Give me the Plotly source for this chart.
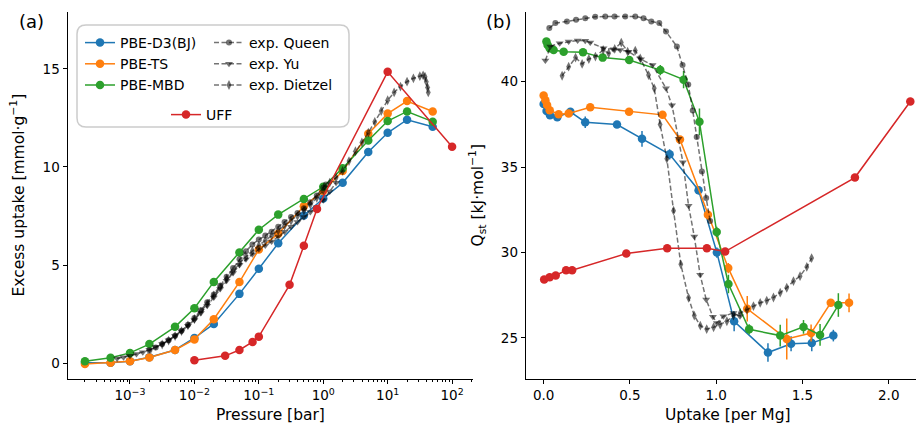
import plotly.graph_objects as go

# ---------------- panel (a): excess uptake isotherms ----------------
P_DFT = [2e-4, 5e-4, 1e-3, 2e-3, 5e-3, 1e-2, 2e-2, 5e-2, 0.1, 0.2, 0.5, 1, 2, 5, 10, 20, 50]
ADS_D3 = [0.02, 0.02, 0.10, 0.30, 0.67, 1.28, 2.00, 3.53, 4.81, 6.11, 7.52, 8.39, 9.19, 10.76, 11.74, 12.41, 12.05]
ADS_TS = [-0.05, 0.02, 0.10, 0.29, 0.67, 1.21, 2.24, 4.13, 5.79, 6.60, 8.00, 8.77, 9.79, 11.69, 12.72, 13.36, 12.83]
ADS_MBD = [0.09, 0.27, 0.52, 0.97, 1.85, 2.80, 4.14, 5.64, 6.80, 7.57, 8.37, 8.99, 9.94, 11.35, 12.34, 12.83, 12.31]

P_UFF = [0.01, 0.03, 0.05, 0.08, 0.1, 0.3, 0.5, 0.8, 10, 100]
ADS_UFF = [0.15, 0.37, 0.67, 1.08, 1.35, 3.99, 5.98, 7.86, 14.85, 11.03]

P_QUEEN = [0.002, 0.00251, 0.00316, 0.00398, 0.00501, 0.00631, 0.00794, 0.01, 0.0126, 0.0158,
           0.02, 0.0251, 0.0316, 0.0398, 0.0501, 0.0631, 0.0794, 0.1, 0.126, 0.158,
           0.2, 0.251, 0.316, 0.398, 0.501, 0.631, 0.794, 1.0, 1.1]
ADS_QUEEN = [0.65, 0.8, 0.97, 1.17, 1.4, 1.65, 1.95, 2.3, 2.7, 3.1,
             3.5, 3.95, 4.4, 4.85, 5.3, 5.7, 6.05, 6.3, 6.5, 6.7,
             6.95, 7.2, 7.45, 7.65, 7.9, 8.2, 8.55, 8.95, 9.1]

P_YU = [0.000631, 0.000794, 0.001, 0.00126, 0.00158, 0.002, 0.00251, 0.00316, 0.00398, 0.00501,
        0.00631, 0.00794, 0.01, 0.0126, 0.0158, 0.02, 0.0251, 0.0316, 0.0398, 0.0501,
        0.0631, 0.0794, 0.1, 0.126, 0.158, 0.2, 0.251, 0.316, 0.398, 0.501,
        0.631, 0.794, 1.0, 1.26, 1.58]
ADS_YU = [0.24, 0.3, 0.37, 0.46, 0.56, 0.68, 0.82, 0.98, 1.17, 1.38,
          1.62, 1.9, 2.2, 2.55, 2.93, 3.35, 3.78, 4.2, 4.6, 5.0,
          5.3, 5.55, 5.8, 6.0, 6.2, 6.45, 6.7, 6.95, 7.2, 7.45,
          7.7, 7.95, 8.3, 8.75, 9.2]

P_DIETZEL = [0.00316, 0.00398, 0.00501, 0.00631, 0.00794, 0.01, 0.0126, 0.0158, 0.02, 0.0251,
             0.0316, 0.0398, 0.0501, 0.0631, 0.0794, 0.1, 0.126, 0.158, 0.2, 0.251,
             0.316, 0.398, 0.501, 0.631, 0.794, 1.0, 1.26, 1.58, 2.0, 2.51,
             3.16, 3.98, 5.01, 6.31, 7.94, 10.0, 12.6, 15.8, 20.0, 25.1,
             31.6, 35.5, 38.0, 39.8, 41.7, 42.7]
ADS_DIETZEL = [0.95, 1.15, 1.38, 1.63, 1.92, 2.25, 2.62, 3.02, 3.45, 3.88,
               4.3, 4.7, 5.08, 5.42, 5.72, 6.0, 6.25, 6.5, 6.75, 7.0,
               7.25, 7.5, 7.78, 8.08, 8.42, 8.8, 9.2, 9.45, 9.8, 10.3,
               10.8, 11.25, 11.75, 12.3, 12.85, 13.4, 13.8, 14.1, 14.35, 14.52,
               14.63, 14.67, 14.6, 14.35, 14.05, 13.8]

# ---------------- panel (b): isosteric heats ----------------
N_D3 = [0.0, 0.017, 0.037, 0.079, 0.155, 0.241, 0.425, 0.57, 0.73, 0.898, 1.004, 1.104, 1.3, 1.434, 1.554, 1.679]
Q_D3 = [38.69, 38.28, 38.04, 37.92, 38.24, 37.63, 37.49, 36.66, 35.75, 33.65, 30.0, 25.98, 24.15, 24.66, 24.71, 25.14]
E_D3 = [0.1, 0.1, 0.15, 0.2, 0.15, 0.34, 0.15, 0.46, 0.3, 0.25, 0.3, 0.59, 0.54, 0.44, 0.49, 0.34]

N_TS = [0.0, 0.01, 0.02, 0.035, 0.087, 0.145, 0.27, 0.495, 0.689, 0.79, 0.952, 1.07, 1.18, 1.409, 1.55, 1.664, 1.77]
Q_TS = [39.19, 38.91, 38.64, 38.33, 38.09, 38.14, 38.5, 38.24, 38.06, 36.62, 32.21, 29.09, 26.71, 24.94, 25.29, 27.06, 27.06]
E_TS = [0.1, 0.1, 0.1, 0.1, 0.1, 0.1, 0.1, 0.15, 0.2, 0.2, 0.3, 0.3, 0.75, 1.2, 0.5, 0.2, 0.55]

N_MBD = [0.016, 0.023, 0.035, 0.058, 0.116, 0.228, 0.342, 0.496, 0.676, 0.811, 0.903, 1.003, 1.071, 1.191, 1.371, 1.506, 1.602, 1.708]
Q_MBD = [42.35, 42.15, 41.96, 41.86, 41.76, 41.72, 41.41, 41.27, 40.68, 40.12, 37.65, 31.21, 28.16, 25.51, 25.14, 25.65, 25.18, 26.93]
E_MBD = [0.1, 0.1, 0.1, 0.1, 0.1, 0.1, 0.15, 0.2, 0.3, 0.5, 0.78, 0.3, 0.54, 0.3, 0.64, 0.4, 0.64, 0.69]

N_UFF = [0.003, 0.035, 0.07, 0.13, 0.165, 0.479, 0.716, 0.946, 1.052, 1.804, 2.125]
Q_UFF = [28.43, 28.55, 28.66, 28.96, 28.96, 29.94, 30.25, 30.25, 30.06, 34.39, 38.84]

N_QUEEN = [0.033, 0.068, 0.135, 0.188, 0.241, 0.299, 0.357, 0.411, 0.473, 0.531, 0.579, 0.624, 0.67,
           0.709, 0.772, 0.805, 0.838, 0.864, 0.887, 0.917, 0.942, 0.965]
Q_QUEEN = [43.14, 43.43, 43.53, 43.62, 43.72, 43.8, 43.82, 43.82, 43.82, 43.82, 43.72, 43.53, 43.43,
           42.94, 42.06, 40.98, 39.84, 38.31, 36.76, 34.74, 33.19, 31.85]

N_YU = [0.01, 0.039, 0.093, 0.145, 0.197, 0.241, 0.27, 0.347, 0.405, 0.444, 0.492, 0.564, 0.631,
        0.709, 0.744, 0.782, 0.807, 0.84, 0.873, 0.907, 0.942, 0.981, 1.004, 1.042, 1.1, 1.138]
Q_YU = [41.24, 42.06, 42.25, 42.35, 42.41, 42.39, 42.29, 41.96, 41.9, 41.86, 41.76, 41.31, 40.98,
        39.61, 38.62, 36.66, 35.29, 32.74, 30.94, 28.7, 27.25, 26.24, 25.88, 26.27, 26.47, 26.27]

N_DIETZEL = [0.107, 0.145, 0.185, 0.223, 0.262, 0.3, 0.345, 0.377, 0.412, 0.45, 0.487, 0.531, 0.56,
             0.608, 0.641, 0.675, 0.714, 0.753, 0.795, 0.84, 0.873, 0.908, 0.945, 0.985, 1.023, 1.062,
             1.1, 1.139, 1.178, 1.216, 1.255, 1.293, 1.332, 1.371, 1.409, 1.448, 1.486, 1.525, 1.553]
Q_DIETZEL = [40.35, 40.88, 41.41, 41.04, 41.33, 41.47, 41.86, 41.66, 41.92, 42.29, 41.76, 41.82, 41.37,
             40.39, 39.61, 37.5, 35.49, 32.45, 29.31, 27.35, 26.31, 25.72, 25.52, 25.63, 25.78, 25.98,
             26.31, 26.46, 26.66, 26.87, 27.06, 27.19, 27.37, 27.65, 27.94, 28.33, 28.62, 29.16, 29.68]

# ---------------- styling ----------------
BLUE, ORANGE, GREEN, RED = "#1f77b4", "#ff7f0e", "#2ca02c", "#d62728"
EXP = "rgba(0,0,0,0.55)"
FONT = "DejaVu Sans"
W, H = 916, 426

fig = go.Figure()

def dft(x, y, color, name, xa, ya, err=None, legend="legend", show=True):
    tr = go.Scatter(x=x, y=y, mode="lines+markers", name=name,
                    line=dict(color=color, width=1.5),
                    marker=dict(color=color, size=8.5),
                    xaxis=xa, yaxis=ya, legend=legend, showlegend=show)
    if err is not None:
        tr.error_y = dict(type="data", array=err, visible=True, color=color, thickness=1.5, width=0)
    fig.add_trace(tr)

def exp(x, y, symbol, size, name, xa, ya, show=True):
    fig.add_trace(go.Scatter(x=x, y=y, mode="lines+markers", name=name,
                             line=dict(color=EXP, width=1.5, dash="5px,2.5px"),
                             marker=dict(color=EXP, size=size, symbol=symbol, line=dict(width=0)),
                             xaxis=xa, yaxis=ya, legend="legend2", showlegend=show))

# panel (a)
dft(P_DFT, ADS_D3, BLUE, "PBE-D3(BJ)", "x", "y")
dft(P_DFT, ADS_TS, ORANGE, "PBE-TS", "x", "y")
dft(P_DFT, ADS_MBD, GREEN, "PBE-MBD", "x", "y")
exp(P_QUEEN, ADS_QUEEN, "circle", 6, "exp. Queen", "x", "y")
exp(P_YU, ADS_YU, "triangle-down", 7, "exp. Yu", "x", "y")
exp(P_DIETZEL, ADS_DIETZEL, "diamond-tall", 7, "exp. Dietzel", "x", "y")
dft(P_UFF, ADS_UFF, RED, "UFF", "x", "y", legend="legend3")

# panel (b)
dft(N_D3, Q_D3, BLUE, "PBE-D3(BJ)", "x2", "y2", err=E_D3, show=False)
dft(N_TS, Q_TS, ORANGE, "PBE-TS", "x2", "y2", err=E_TS, show=False)
dft(N_MBD, Q_MBD, GREEN, "PBE-MBD", "x2", "y2", err=E_MBD, show=False)
exp(N_QUEEN, Q_QUEEN, "circle", 6, "exp. Queen", "x2", "y2", show=False)
exp(N_YU, Q_YU, "triangle-down", 7, "exp. Yu", "x2", "y2", show=False)
exp(N_DIETZEL, Q_DIETZEL, "diamond-tall", 7, "exp. Dietzel", "x2", "y2", show=False)
dft(N_UFF, Q_UFF, RED, "UFF", "x2", "y2", show=False)

def px(x):
    return x / W

def py(y):
    return 1 - y / H

TICKFONT = dict(family=FONT, size=13.5, color="black")
axis_common = dict(showline=True, linecolor="black", linewidth=1, ticks="outside", ticklen=4,
                   tickwidth=1, tickcolor="black", showgrid=False, zeroline=False,
                   tickfont=TICKFONT, mirror=False)

minor_vals = [m * 10 ** e for e in range(-4, 3) for m in range(2, 10)]
DEC = [1e-3, 1e-2, 1e-1, 1, 10, 100]
DEC_TXT = ["10<sup>\u22123</sup>", "10<sup>\u22122</sup>", "10<sup>\u22121</sup>",
           "10<sup>0</sup>", "10<sup>1</sup>", "10<sup>2</sup>"]

LEGFONT = dict(family=FONT, size=14, color="black")
y_dom = [py(379), py(12)]
fig.update_layout(
    width=W, height=H, margin=dict(l=0, r=0, t=0, b=0),
    paper_bgcolor="white", plot_bgcolor="white",
    font=dict(family=FONT, color="black"),
    xaxis=dict(type="log", range=[-3.97, 2.32], domain=[px(67.5), px(472.7)], anchor="y",
               tickvals=DEC, ticktext=DEC_TXT,
               minor=dict(tickvals=minor_vals, ticks="outside", ticklen=2.2, tickcolor="black", showgrid=False),
               **axis_common),
    yaxis=dict(range=[-0.81, 17.9], domain=y_dom, anchor="x", tickvals=[0, 5, 10, 15], **axis_common),
    xaxis2=dict(range=[-0.104, 2.158], domain=[px(525.7), 1.0], anchor="y2",
                tickvals=[0, 0.5, 1.0, 1.5, 2.0], ticktext=["0.0", "0.5", "1.0", "1.5", "2.0"], **axis_common),
    yaxis2=dict(range=[22.6, 44.08], domain=y_dom, anchor="x2", tickvals=[25, 30, 35, 40], **axis_common),
    legend=dict(x=px(80), y=py(27), xanchor="left", yanchor="top", bgcolor="rgba(0,0,0,0)",
                font=LEGFONT, tracegroupgap=0, itemwidth=30),
    legend2=dict(x=px(209), y=py(27), xanchor="left", yanchor="top", bgcolor="rgba(0,0,0,0)",
                 font=LEGFONT, tracegroupgap=0, itemwidth=30),
    legend3=dict(x=px(166), y=py(99), xanchor="left", yanchor="top", bgcolor="rgba(0,0,0,0)",
                 font=LEGFONT, tracegroupgap=0, itemwidth=30),
    showlegend=True,
)

# rounded legend frame
x0, x1, y0, y1, r = 77, 349, 25, 127, 9
path = (f"M {px(x0 + r)},{py(y0)} L {px(x1 - r)},{py(y0)} Q {px(x1)},{py(y0)} {px(x1)},{py(y0 + r)} "
        f"L {px(x1)},{py(y1 - r)} Q {px(x1)},{py(y1)} {px(x1 - r)},{py(y1)} "
        f"L {px(x0 + r)},{py(y1)} Q {px(x0)},{py(y1)} {px(x0)},{py(y1 - r)} "
        f"L {px(x0)},{py(y0 + r)} Q {px(x0)},{py(y0)} {px(x0 + r)},{py(y0)} Z")
fig.add_shape(type="path", path=path, xref="paper", yref="paper",
              line=dict(color="#cccccc", width=1.5), fillcolor="rgba(255,255,255,0.8)", layer="above")

LABELFONT = dict(family=FONT, size=15.5, color="black")
ann = [
    dict(text="(a)", x=px(31), y=py(22), font=dict(family=FONT, size=18, color="black")),
    dict(text="(b)", x=px(498), y=py(22), font=dict(family=FONT, size=18, color="black")),
    dict(text="Pressure [bar]", x=px(270), y=py(415), font=LABELFONT),
    dict(text="Uptake [per Mg]", x=px(728), y=py(415), font=LABELFONT),
    dict(text="Excess uptake [mmol\u00b7g<sup>\u22121</sup>]", x=px(18), y=py(195.5), font=LABELFONT, textangle=-90),
    dict(text="Q<sub>st</sub> [kJ\u00b7mol<sup>\u22121</sup>]", x=px(478), y=py(195.5), font=LABELFONT, textangle=-90),
]
for a in ann:
    fig.add_annotation(xref="paper", yref="paper", showarrow=False, xanchor="center", yanchor="middle", **a)

fig.write_html("out.html")
